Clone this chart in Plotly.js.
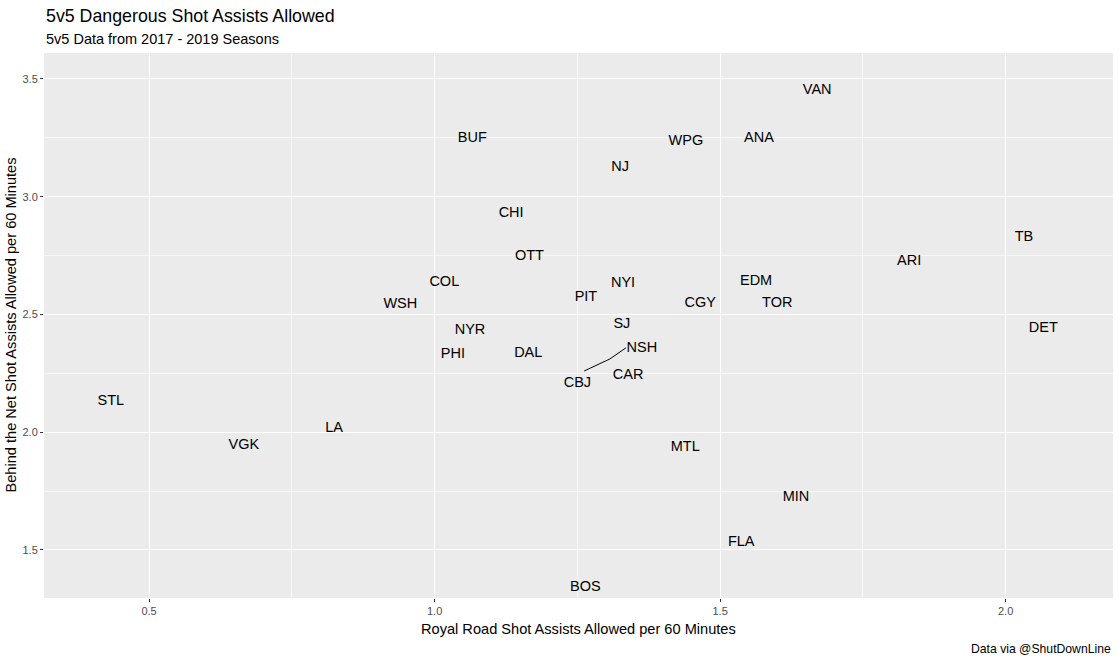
<!DOCTYPE html>
<html>
<head>
<meta charset="utf-8">
<script src="https://cdn.plot.ly/plotly-3.0.1.min.js"></script>
<style>html,body{margin:0;padding:0;background:#fff;}#chart{width:1119px;height:661px;}</style>
</head>
<body>
<div id="chart"></div>
<script>
const teams = ["VAN","BUF","WPG","ANA","NJ","CHI","TB","OTT","ARI","COL","NYI","EDM","PIT","WSH","CGY","TOR","SJ","NYR","DET","NSH","PHI","DAL","CAR","CBJ","STL","LA","VGK","MTL","MIN","FLA","BOS"];
const royalRoad = [1.670,1.066,1.440,1.568,1.325,1.134,2.032,1.166,1.831,1.017,1.330,1.563,1.265,0.940,1.465,1.600,1.328,1.062,2.066,1.363,1.032,1.164,1.339,1.250,0.433,0.824,0.666,1.439,1.633,1.537,1.264];
const behindNet = [3.452,3.248,3.235,3.248,3.125,2.929,2.827,2.747,2.725,2.636,2.632,2.640,2.573,2.543,2.547,2.547,2.458,2.432,2.441,2.356,2.331,2.335,2.241,2.207,2.131,2.016,1.944,1.936,1.723,1.532,1.341];
const segX = [1.262,1.307,1.335];
const segY = [2.260,2.311,2.358];
const xTicks = [0.5,1.0,1.5,2.0];
const yTicks = [1.5,2.0,2.5,3.0,3.5];

const FONT = "Liberation Sans, Arial, sans-serif";
const traces = [
  {x: segX, y: segY, mode: "lines", line: {color: "#000", width: 1}, hoverinfo: "skip", showlegend: false},
  {x: royalRoad, y: behindNet, text: teams, mode: "text", textposition: "middle center",
   textfont: {family: FONT, size: 14.5, color: "#000"}, showlegend: false}
];
const layout = {
  width: 1119, height: 661,
  margin: {l: 44, r: 6, t: 53, b: 63},
  paper_bgcolor: "#fff", plot_bgcolor: "#EBEBEB",
  font: {family: FONT},
  xaxis: {range: [0.316, 2.188], tickvals: xTicks, ticktext: xTicks.map(v => v.toFixed(1)),
    showgrid: true, gridcolor: "#fff", gridwidth: 1, zeroline: false,
    ticks: "outside", ticklen: 3, tickcolor: "#333", tickwidth: 1,
    tickfont: {family: FONT, size: 11, color: "#4D4D4D"},
    minor: {dtick: 0.25, tick0: 0.25, showgrid: true, gridcolor: "#fff", gridwidth: 0.6, ticks: ""}},
  yaxis: {range: [1.296, 3.61], tickvals: yTicks, ticktext: yTicks.map(v => v.toFixed(1)),
    showgrid: true, gridcolor: "#fff", gridwidth: 1, zeroline: false,
    ticks: "outside", ticklen: 3, tickcolor: "#333", tickwidth: 1,
    tickfont: {family: FONT, size: 11, color: "#4D4D4D"},
    minor: {dtick: 0.25, tick0: 0.25, showgrid: true, gridcolor: "#fff", gridwidth: 0.6, ticks: ""}},
  annotations: [
    {text: "5v5 Dangerous Shot Assists Allowed", xref: "paper", yref: "paper", x: 0, y: 1.068, xanchor: "left", yanchor: "middle", showarrow: false, font: {family: FONT, size: 17.8, color: "#000"}},
    {text: "5v5 Data from 2017 - 2019 Seasons", xref: "paper", yref: "paper", x: 0, y: 1.026, xanchor: "left", yanchor: "middle", showarrow: false, font: {family: FONT, size: 14.5, color: "#000"}},
    {text: "Data via @ShutDownLine", xref: "paper", yref: "paper", x: 1, y: -0.0936, xanchor: "right", yanchor: "middle", showarrow: false, font: {family: FONT, size: 12.2, color: "#000"}},
    {text: "Royal Road Shot Assists Allowed per 60 Minutes", xref: "paper", yref: "paper", x: 0.5, y: -0.0569, xanchor: "center", yanchor: "middle", showarrow: false, font: {family: FONT, size: 14.6, color: "#000"}},
    {text: "Behind the Net Shot Assists Allowed per 60 Minutes", xref: "paper", yref: "paper", x: -0.0318, y: 0.5, xanchor: "center", yanchor: "middle", textangle: -90, showarrow: false, font: {family: FONT, size: 14.6, color: "#000"}}
  ]
};
Plotly.newPlot("chart", traces, layout, {displayModeBar: false, staticPlot: true});
</script>
</body>
</html>
